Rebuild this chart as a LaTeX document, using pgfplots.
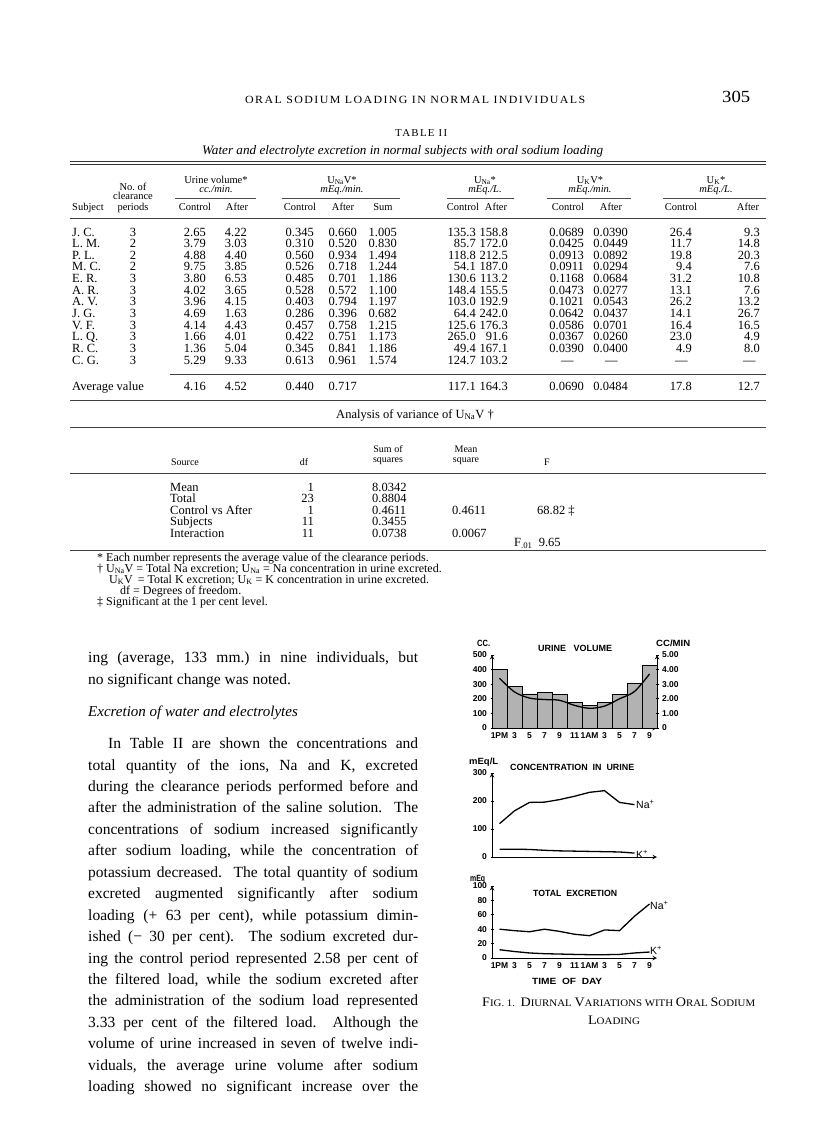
\documentclass[border=0pt]{standalone}
\usepackage{fontspec}
\setmainfont{Liberation Serif}
\newfontfamily\figfont{Liberation Sans}
\newfontfamily\spacedfont[LetterSpace=12]{Liberation Serif}
\usepackage{graphicx}
\usepackage{pgfplots}
\pgfplotsset{compat=1.18}
\frenchspacing
\newcommand\fs[1]{\fontsize{#1}{#1}\selectfont}
\newlength\tmpw
\newcommand\TL[3]{\node[anchor=base west,inner sep=0pt] at (#1,#2) {#3};}
\newcommand\TR[3]{\node[anchor=base east,inner sep=0pt] at (#1,#2) {#3};}
\newcommand\TC[3]{\node[anchor=base,inner sep=0pt] at (#1,#2) {#3};}
\newcommand\fitbox[2]{\settowidth\tmpw{#2}\ifdim\tmpw>#1pt\resizebox{#1pt}{\height}{#2}\else\makebox[#1pt][s]{#2}\fi}
\newcommand\JL[4]{\node[anchor=base west,inner sep=0pt] at (#1,#2) {\fitbox{#3}{#4}};}
\newcommand\RW[4]{\node[anchor=base west,inner sep=0pt] at (#1,#2) {\resizebox{#3pt}{\height}{#4}};}
\newcommand\RC[4]{\node[anchor=base,inner sep=0pt] at (#1,#2) {\resizebox{#3pt}{\height}{#4}};}
\newcommand\fsc[2]{{\fs{13}#1}{\fs{10}#2}}
\newcommand\rowA[8]{\TL{72}{#1}{#2}\TC{133}{#1}{#3}\TR{206}{#1}{#4}\TR{247}{#1}{#5}\TR{314}{#1}{#6}\TR{357}{#1}{#7}\TR{397}{#1}{#8}}
\newcommand\rowB[7]{\TR{476}{#1}{#2}\TR{508}{#1}{#3}\TR{584}{#1}{#4}\TR{628}{#1}{#5}\TR{692}{#1}{#6}\TR{760}{#1}{#7}}
\pgfplotsset{figax/.style={scale only axis, width=165pt, xmin=0, xmax=11, ymin=0,
  enlargelimits=false, axis line style={-, line width=1pt}, tick style={line width=0.8pt, black},
  major tick length=3pt, tick align=inside, clip=false,
  tick label style={font=\figfont\bfseries\fs{8.5}},
  /pgf/number format/assume math mode=true}}
\begin{document}
\begin{tikzpicture}
\fill[white] (0pt,0pt) rectangle (816pt,-1134pt);
\path[use as bounding box] (0pt,0pt) rectangle (816pt,-1134pt);
\begin{scope}[x=1pt,y=-1pt]
% running head
\RW{245}{104}{340}{\spacedfont\fs{11}ORAL SODIUM LOADING IN NORMAL INDIVIDUALS}
\RW{722}{103}{28}{\fs{17}305}
\RW{395}{137}{52}{\spacedfont\fs{10.5}TABLE II}
\RW{202}{154}{401}{\fs{13}\itshape Water and electrolyte excretion in normal subjects with oral sodium loading}
% rules
\draw[line width=0.7pt,black!80] (70,161) -- (766,161) (70,164.5) -- (766,164.5);
\draw[line width=0.5pt,black!70] (175,198) -- (256,198) (282,198) -- (400,198) (447,198) -- (514,198) (547,198) -- (631,198) (663,198) -- (766,198);
\draw[line width=0.6pt,black!75] (70,218) -- (766,218);
\draw[line width=0.6pt,black!75] (170,374) -- (766,374);
\draw[line width=0.6pt,black!75] (70,400) -- (766,400);
% header
\begin{scope}[every node/.append style={font=\fs{10.5}}]
\TL{72}{210}{Subject}
\TC{133}{190}{No. of}\TC{133}{200}{clearance}\TC{133}{210}{periods}
\TC{216}{183}{Urine volume*}\TC{216}{193}{\itshape cc./min.}
\TC{195}{210}{Control}\TC{237}{210}{After}
\TC{342}{183}{U\textsubscript{Na}V*}\TC{342}{193}{\itshape mEq./min.}
\TC{300}{210}{Control}\TC{343}{210}{After}\TC{383}{210}{Sum}
\TC{485}{183}{U\textsubscript{Na}*}\TC{485}{193}{\itshape mEq./L.}
\TC{463}{210}{Control}\TC{496}{210}{After}
\TC{590}{183}{U\textsubscript{K}V*}\TC{590}{193}{\itshape mEq./min.}
\TC{568}{210}{Control}\TC{611}{210}{After}
\TC{716}{183}{U\textsubscript{K}*}\TC{716}{193}{\itshape mEq./L.}
\TC{681}{210}{Control}\TC{748}{210}{After}
\end{scope}
\begin{scope}[every node/.append style={font=\fs{12.5}}]
\rowA{236.0}{J. C.}{3}{2.65}{4.22}{0.345}{0.660}{1.005}\rowB{236.0}{135.3}{158.8}{0.0689}{0.0390}{26.4}{9.3}
\rowA{247.6}{L. M.}{2}{3.79}{3.03}{0.310}{0.520}{0.830}\rowB{247.6}{85.7}{172.0}{0.0425}{0.0449}{11.7}{14.8}
\rowA{259.3}{P. L.}{2}{4.88}{4.40}{0.560}{0.934}{1.494}\rowB{259.3}{118.8}{212.5}{0.0913}{0.0892}{19.8}{20.3}
\rowA{270.9}{M. C.}{2}{9.75}{3.85}{0.526}{0.718}{1.244}\rowB{270.9}{54.1}{187.0}{0.0911}{0.0294}{9.4}{7.6}
\rowA{282.6}{E. R.}{3}{3.80}{6.53}{0.485}{0.701}{1.186}\rowB{282.6}{130.6}{113.2}{0.1168}{0.0684}{31.2}{10.8}
\rowA{294.2}{A. R.}{3}{4.02}{3.65}{0.528}{0.572}{1.100}\rowB{294.2}{148.4}{155.5}{0.0473}{0.0277}{13.1}{7.6}
\rowA{305.8}{A. V.}{3}{3.96}{4.15}{0.403}{0.794}{1.197}\rowB{305.8}{103.0}{192.9}{0.1021}{0.0543}{26.2}{13.2}
\rowA{317.5}{J. G.}{3}{4.69}{1.63}{0.286}{0.396}{0.682}\rowB{317.5}{64.4}{242.0}{0.0642}{0.0437}{14.1}{26.7}
\rowA{329.1}{V. F.}{3}{4.14}{4.43}{0.457}{0.758}{1.215}\rowB{329.1}{125.6}{176.3}{0.0586}{0.0701}{16.4}{16.5}
\rowA{340.8}{L. Q.}{3}{1.66}{4.01}{0.422}{0.751}{1.173}\rowB{340.8}{265.0}{91.6}{0.0367}{0.0260}{23.0}{4.9}
\rowA{352.4}{R. C.}{3}{1.36}{5.04}{0.345}{0.841}{1.186}\rowB{352.4}{49.4}{167.1}{0.0390}{0.0400}{4.9}{8.0}
\rowA{364.0}{C. G.}{3}{5.29}{9.33}{0.613}{0.961}{1.574}\rowB{364.0}{124.7}{103.2}{\makebox[33pt]{—}}{\makebox[33pt]{—}}{\makebox[21pt]{—}}{\makebox[21pt]{—}}
\rowA{390}{Average value}{}{4.16}{4.52}{0.440}{0.717}{}\rowB{390}{117.1}{164.3}{0.0690}{0.0484}{17.8}{12.7}
% analysis of variance
\TC{415}{418}{Analysis of variance of U\textsubscript{Na}V †}
\TL{170}{491}{Mean}\TR{314}{491}{1}\TL{372}{491}{8.0342}
\TL{170}{502.5}{Total}\TR{314}{502.5}{23}\TL{372}{502.5}{0.8804}
\TL{170}{514}{Control vs After}\TR{314}{514}{1}\TL{372}{514}{0.4611}\TL{452}{514}{0.4611}\TL{537}{514}{68.82 ‡}
\TL{170}{525.5}{Subjects}\TR{314}{525.5}{11}\TL{372}{525.5}{0.3455}
\TL{170}{537}{Interaction}\TR{314}{537}{11}\TL{372}{537}{0.0738}\TL{452}{537}{0.0067}
\TL{514}{546.5}{F\textsubscript{.01}\ \ 9.65}
\end{scope}
\draw[line width=0.6pt,black!75] (70,427) -- (766,427);
\draw[line width=0.6pt,black!75] (70,473) -- (766,473);
\draw[line width=0.6pt,black!75] (70,550) -- (766,550);
\begin{scope}[every node/.append style={font=\fs{10}}]
\TC{185}{465}{Source}\TC{304}{465}{df}\TC{388}{452}{Sum of}\TC{388}{462}{squares}
\TC{466}{452}{Mean}\TC{466}{462}{square}\TC{547}{465}{F}
\end{scope}
\begin{scope}[every node/.append style={font=\fs{12}}]
\TL{97}{561}{* Each number represents the average value of the clearance periods.}
\TL{97}{572}{† U\textsubscript{Na}V = Total Na excretion; U\textsubscript{Na} = Na concentration in urine excreted.}
\TL{109}{583}{U\textsubscript{K}V\,\ = Total K excretion; U\textsubscript{K} = K concentration in urine excreted.}
\TL{120}{594}{df = Degrees of freedom.}
\TL{97}{605}{‡ Significant at the 1 per cent level.}
\end{scope}
% body text
\begin{scope}[every node/.append style={font=\fs{15.5}}]
\JL{88}{662}{330}{ing (average, 133 mm.) in nine individuals, but}
\TL{88}{684}{no significant change was noted.}
\TL{88}{716}{\itshape\fs{15}Excretion of water and electrolytes}
\JL{108}{748}{310}{In Table II are shown the concentrations and}
\JL{88}{770}{330}{total quantity of the ions, Na and K, excreted}
\JL{88}{791}{330}{during the clearance periods performed before and}
\JL{88}{812}{330}{after the administration of the saline solution.\ \ The}
\JL{88}{834}{330}{concentrations of sodium increased significantly}
\JL{88}{855}{330}{after sodium loading, while the concentration of}
\JL{88}{877}{330}{potassium decreased.\ \ The total quantity of sodium}
\JL{88}{898}{330}{excreted augmented significantly after sodium}
\JL{88}{920}{330}{loading (+ 63 per cent), while potassium dimin-}
\JL{88}{941}{330}{ished (− 30 per cent).\ \ The sodium excreted dur-}
\JL{88}{963}{330}{ing the control period represented 2.58 per cent of}
\JL{88}{984}{330}{the filtered load, while the sodium excreted after}
\JL{88}{1005}{330}{the administration of the sodium load represented}
\JL{88}{1027}{330}{3.33 per cent of the filtered load.\ \ Although the}
\JL{88}{1048}{330}{volume of urine increased in seven of twelve indi-}
\JL{88}{1070}{330}{viduals, the average urine volume after sodium}
\JL{88}{1091}{330}{loading showed no significant increase over the}
\end{scope}
% figure texts
\begin{scope}[every node/.append style={font=\figfont\bfseries\fs{9}}]
\RW{477}{646}{13}{CC.}
\RW{538}{651}{74}{URINE\ \ \ VOLUME}
\RW{656}{646}{34}{CC/MIN}
\RW{469}{764}{29}{mEq/L}
\RW{510}{770}{124}{CONCENTRATION\ \ IN\ \ URINE}
\RW{470}{881}{15}{mEq}
\RW{533}{896}{84}{TOTAL\ \ EXCRETION}
\RW{532}{984}{70}{TIME\ \ OF\ \ DAY}
\end{scope}
\begin{scope}[every node/.append style={font=\figfont\fs{10.5}}]
\TL{636}{808}{Na\textsuperscript{+}}
\TL{636}{858}{K\textsuperscript{+}}
\TL{650}{909}{Na\textsuperscript{+}}
\TL{650}{954}{K\textsuperscript{+}}
\end{scope}
\RW{482}{1006}{273}{\fsc{F}{IG}. 1.\ \ \fsc{D}{IURNAL} \fsc{V}{ARIATIONS} {\fs{10}WITH} \fsc{O}{RAL} \fsc{S}{ODIUM}}
\RC{614}{1024}{52}{\fsc{L}{OADING}}
\end{scope}
% chart 1: urine volume
\begin{axis}[figax, at={(492pt,-728pt)}, anchor=south west, height=73pt, ymax=500,
  axis x line=bottom, axis y line=left, ytick={0,100,200,300,400,500},
  xtick={0.5,1.5,...,10.5}, xticklabels={1PM,3,5,7,9,11,1AM,3,5,7,9},
  x tick style={draw=none}]
\addplot[ybar, bar width=1, bar shift=0pt, fill=black!30, draw=black, line width=0.6pt]
  coordinates {(0.5,403)(1.5,287)(2.5,233)(3.5,244)(4.5,229)(5.5,177)(6.5,157)(7.5,175)(8.5,231)(9.5,309)(10.5,430)};
\end{axis}
\begin{axis}[figax, at={(492pt,-728pt)}, anchor=south west, height=73pt, ymax=5,
  axis x line=none, axis y line=right, ytick={0,1,2,3,4,5},
  yticklabels={0,1.00,2.00,3.00,4.00,5.00}]
\addplot[smooth, line width=1.3pt, black]
  coordinates {(0.5,3.41)(1.5,2.47)(2.5,2.05)(3.5,1.95)(4.5,1.9)(5.5,1.55)(6.5,1.35)(7.5,1.5)(8.5,2.0)(9.5,2.5)(10.5,3.7)};
\end{axis}
% chart 2: concentration in urine
\begin{axis}[figax, at={(492pt,-857pt)}, anchor=south west, height=84pt, ymax=300,
  axis x line=bottom, axis y line=left, ytick={0,100,200,300}, xtick=\empty]
\addplot[line width=1.3pt, black]
  coordinates {(0.5,119)(1.5,165)(2.5,195)(3.5,196)(4.5,205)(5.5,217)(6.5,231)(7.5,237)(8.5,195)(9.5,187)};
\addplot[line width=1.3pt, black]
  coordinates {(0.5,28)(1.5,28)(2.5,27)(3.5,24)(4.5,22)(5.5,21)(6.5,20)(7.5,19)(8.5,18)(9.5,14)};
\end{axis}
% chart 3: total excretion
\begin{axis}[figax, at={(492pt,-958pt)}, anchor=south west, height=72pt, ymax=100,
  axis x line=bottom, axis y line=left, ytick={0,20,40,60,80,100},
  xtick={0.5,1.5,...,10.5}, xticklabels={1PM,3,5,7,9,11,1AM,3,5,7,9},
  x tick style={draw=none},
  extra x ticks={1,2,3,4,5,6,7,8,9,10}, extra x tick labels={},
  extra x tick style={tick style={draw=black, line width=0.8pt}}]
\addplot[line width=1.3pt, black]
  coordinates {(0.5,40)(1.5,38)(2.5,36.5)(3.5,40)(4.5,37)(5.5,33)(6.5,31)(7.5,39)(8.5,38)(9.5,58)(10.5,75)};
\addplot[line width=1.3pt, black]
  coordinates {(0.5,11.5)(1.5,9)(2.5,7)(3.5,6)(4.5,5.5)(5.5,5)(6.5,4.6)(7.5,4.6)(8.5,5)(9.5,7)(10.5,8.3)};
\end{axis}
\end{tikzpicture}
\end{document}
